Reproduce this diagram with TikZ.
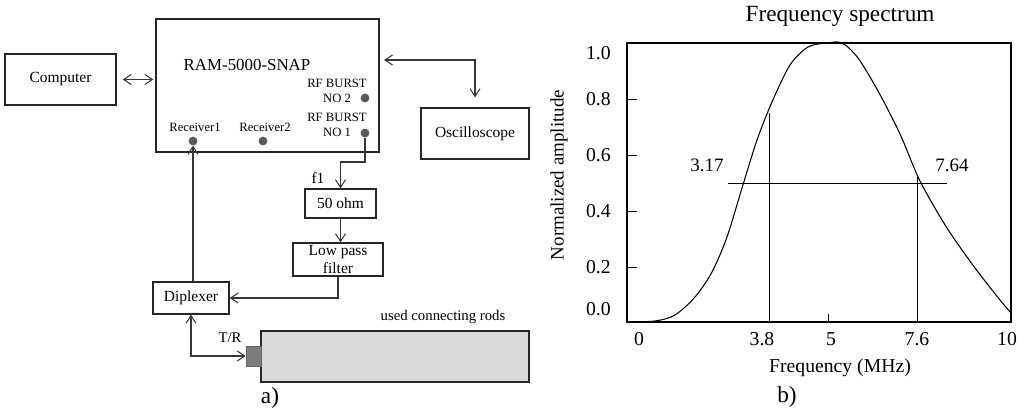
\documentclass[tikz,border=0pt]{standalone}
\usepackage{fontspec}
\setmainfont{Liberation Serif}
\usetikzlibrary{arrows.meta,positioning,calc}
\definecolor{linegray}{RGB}{55,55,55}
\definecolor{portgray}{RGB}{90,90,90}
\definecolor{rodgray}{RGB}{217,217,217}
\definecolor{capgray}{RGB}{125,125,125}

\begin{document}
\begin{tikzpicture}[x=0.025cm, y=-0.025cm, >={Straight Barb[length=1.9mm,width=2.5mm]},
	block/.style={draw=black!85, line width=1pt, rectangle, inner sep=0pt, align=center, font=\fontsize{11}{12.5}\selectfont},
	port/.style={circle, fill=portgray, minimum size=2.2mm, inner sep=0pt},
	tag/.style={inner sep=0pt, align=center, font=\fontsize{9}{11}\selectfont},
	word/.style={inner sep=0pt, font=\fontsize{10.5}{12}\selectfont},
	link/.style={line width=0.75pt, color=linegray},
	caption/.style={inner sep=0pt, font=\fontsize{16.5}{18}\selectfont},
	axlabel/.style={inner sep=0pt, font=\fontsize{14}{16}\selectfont},
	curve/.style={line width=0.75pt, color=black}
	]
	\useasboundingbox (0,0) rectangle (1029,411);

	% a) measurement set-up
	\node[block, minimum width=5.575cm, minimum height=3.325cm](ram) at (267.5,85.5) {};
	\node[inner sep=0pt, font=\fontsize{12}{14}\selectfont](ramname) at (247,65) {RAM-5000-SNAP};
	\node[block, minimum width=2.775cm, minimum height=1.275cm](comp) at (60.5,79.5) {Computer};
	\node[block, minimum width=2.7cm, minimum height=1.275cm](osc) at (475,133.5) {Oscilloscope};

	\node[port](rfb2) at (365,98) {};
	\node[port](rfb1) at (365,133) {};
	\node[port](rx1) at (193,141) {};
	\node[port](rx2) at (263,141) {};
	\node[tag](rfb2txt) at (337,91) {RF BURST\\NO 2};
	\node[tag](rfb1txt) at (337,125) {RF BURST\\NO 1};
	\node[tag](rx1txt) at (195,127) {Receiver1};
	\node[tag](rx2txt) at (265,127) {Receiver2};

	\node[block, minimum width=1.775cm, minimum height=0.725cm](ohm) at (340.5,203.5) {50 ohm};
	\node[block, minimum width=2.25cm, minimum height=0.825cm](lpf) at (338,259.5) {Low pass\\filter};
	\node[block, minimum width=1.9cm, minimum height=0.8cm](dipl) at (191,298) {Diplexer};
	\node[block, fill=rodgray, minimum width=6.7cm, minimum height=1.275cm](rod) at (395,356.5) {};
	\node[draw=capgray!80!black, line width=0.4pt, fill=capgray, minimum width=0.375cm, minimum height=0.5cm, inner sep=0pt](conn) at (253.5,356) {};

	\node[word, font=\fontsize{11}{12}\selectfont](f1) at (318,178) {f1};
	\node[word](tr) at (230,338) {T/R};
	\node[word](rodtxt) at (443,317) {used connecting rods};
	\node[caption](capa) at (270,398) {a)};

	\coordinate (ramport) at (379,60);
	\coordinate (f1bend) at (340.5,162);
	\draw [link, <->, shorten <=0.15cm, shorten >=0.05cm] (comp.east) to [] (comp.east -| ram.west);
	\draw [link, <->, shorten <=0.125cm, shorten >=0.25cm] (ramport) -| (osc.north);
	\draw [link, ->] (rfb1) |- (f1bend) -- (ohm.north);
	\draw [link, ->] (ohm.south) to [] (ohm.south |- lpf.north);
	\draw [link, ->] (lpf.south) |- (dipl.east);
	\draw [link, ->] (rx1 |- dipl.north) to [] (rx1);
	\draw [link, <->] (dipl.south) |- (conn.west);

	% b) frequency spectrum
	\draw [line width=0.8pt] (627,43) rectangle (1011,322);
	\foreach \yy in {99,155,211,267}
		\draw [line width=0.7pt] (627,\yy) -- (637,\yy);
	\draw [line width=0.7pt] (828,314) -- (828,322);
	\foreach \yy/\txt in {53/1.0,99/0.8,155/0.6,211/0.4,267/0.2,309/0.0}
		\node[axlabel, anchor=east] at (611,\yy) {\txt};
	\foreach \xx/\txt in {639/0,762/3.8,831/5,917/7.6,1007/10}
		\node[axlabel] at (\xx,339) {\txt};

	\draw [curve] plot[smooth] coordinates {(627,322) (655,321) (675,315) (695,297) (712,272) (727,237)
		(742,188) (757,140) (772,102) (790,65) (808,47) (827,43) (842,43) (858,58) (878,91) (900,134)
		(920,181) (947,228) (975,268) (1000,300) (1011,313)};

	\draw [line width=0.7pt] (728,183) -- (947,183);
	\draw [line width=0.7pt] (769,113) -- (769,322);
	\draw [line width=0.7pt] (917,175) -- (917,322);
	\node[axlabel, font=\fontsize{13.5}{15}\selectfont](lo) at (707,165) {3.17};
	\node[axlabel, font=\fontsize{13.5}{15}\selectfont](hi) at (952,165) {7.64};

	\node[caption](title) at (840,16) {Frequency spectrum};
	\node[axlabel](xlab) at (840,368) {Frequency (MHz)};
	\node[axlabel, rotate=90, font=\fontsize{13.5}{15}\selectfont](ylab) at (559,175) {Normalized amplitude};
	\node[caption](capb) at (787,397) {b)};
\end{tikzpicture}
\end{document}
